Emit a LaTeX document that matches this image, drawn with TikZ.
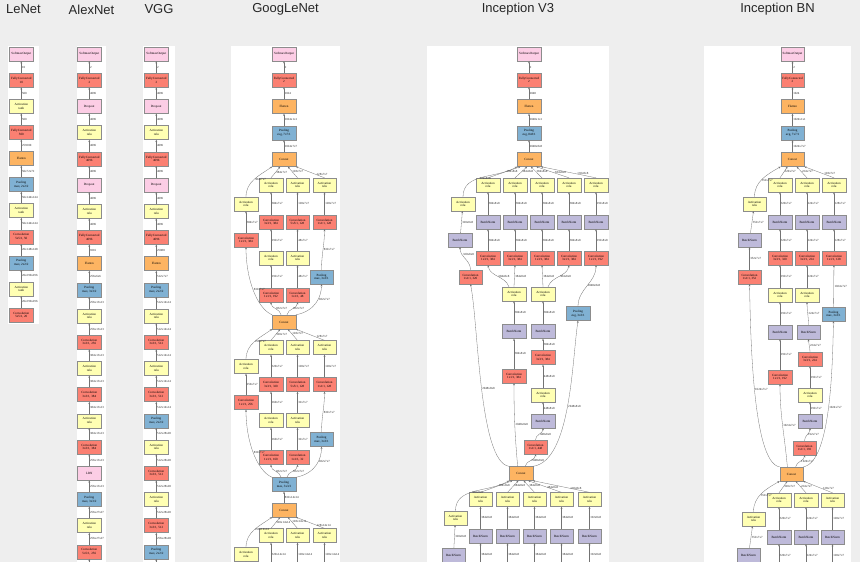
\documentclass[tikz,border=0pt]{standalone}
\usepackage{fontspec}
\setmainfont{Liberation Serif}
\newfontfamily\ttlfont{Liberation Sans}
\usetikzlibrary{arrows.meta}
\definecolor{cRed}{HTML}{FB8072}
\definecolor{cYel}{HTML}{FFFFB3}
\definecolor{cPur}{HTML}{BEBADA}
\definecolor{cBlue}{HTML}{80B1D3}
\definecolor{cOra}{HTML}{FDB462}
\definecolor{cPink}{HTML}{FCCDE5}
\definecolor{bgGray}{HTML}{EEEEEE}
\begin{document}
\begin{tikzpicture}[x=1pt,y=1pt,
 nb/.style={draw=black!45,line width=0.35pt,minimum width=23.5pt,minimum height=14pt,inner sep=0pt,align=center,font={\fontsize{3.2}{3.7}\selectfont}},
 conv/.style={nb,fill=cRed},
 act/.style={nb,fill=cYel},
 bn/.style={nb,fill=cPur},
 pool/.style={nb,fill=cBlue},
 cat/.style={nb,fill=cOra},
 oth/.style={nb,fill=cPink},
 e/.style={draw=black!55,line width=0.3pt,-{Stealth[length=2.2pt,width=1.8pt]}},
 lab/.style={font={\fontsize{3.1}{3.5}\selectfont},anchor=west,inner sep=0.6pt,text=black!85},
 ttl/.style={font={\ttlfont\fontsize{13}{15}\selectfont},text=black!85,inner sep=0pt},
 panel/.style={fill=white,draw=none}]
\useasboundingbox (0,0) rectangle (860,-562);
\fill[bgGray] (0,0) rectangle (860,-562);
% panels
\fill[panel] (8,-46) rectangle (39,-324);
\fill[panel] (77,-46) rectangle (106,-562);
\fill[panel] (143,-46) rectangle (175,-562);
\fill[panel] (231,-46) rectangle (340,-562);
\fill[panel] (427,-46) rectangle (609,-562);
\fill[panel] (704,-46) rectangle (851,-562);
% titles
\node[ttl] (tLe) at (23.5,-9.5) {LeNet};
\node[ttl] (tAl) at (91.5,-9.5) {AlexNet};
\node[ttl] (tVg) at (159,-9.5) {VGG};
\node[ttl] (tGo) at (285.5,-9.5) {GoogLeNet};
\node[ttl] (tV3) at (518,-9.5) {Inception V3};
\node[ttl] (tBN) at (777.5,-9.5) {Inception BN};

% ================= LeNet =================
\foreach \i/\st/\tx in {0/oth/SoftmaxOutput,1/conv/{FullyConnected\\10},2/act/{Activation\\tanh},3/conv/{FullyConnected\\500},4/cat/Flatten,5/pool/{Pooling\\max, 2x2/2},6/act/{Activation\\tanh},7/conv/{Convolution\\5x5/1, 50},8/pool/{Pooling\\max, 2x2/2},9/act/{Activation\\tanh},10/conv/{Convolution\\5x5/1, 20}}
  \node[\st] (le\i) at (21.3,{-54-26.1*\i}) {\tx};
\foreach \i/\lb in {1/10,2/500,3/500,4/259200,5/50x72x72,6/50x144x144,7/50x144x144,8/20x148x148,9/20x296x296,10/20x296x296}{
  \pgfmathtruncatemacro\jj{\i-1}
  \draw[e] (le\i) -- node[lab]{\lb} (le\jj);}

% ================= AlexNet =================
\foreach \i/\st/\tx in {0/oth/SoftmaxOutput,1/conv/{FullyConnected\\2},2/oth/Dropout,3/act/{Activation\\relu},4/conv/{FullyConnected\\4096},5/oth/Dropout,6/act/{Activation\\relu},7/conv/{FullyConnected\\4096},8/cat/Flatten,9/pool/{Pooling\\max, 3x3/2},10/act/{Activation\\relu},11/conv/{Convolution\\3x3/1, 256},12/act/{Activation\\relu},13/conv/{Convolution\\3x3/1, 384},14/act/{Activation\\relu},15/conv/{Convolution\\3x3/1, 384},16/oth/LRN,17/pool/{Pooling\\max, 3x3/2},18/act/{Activation\\relu},19/conv/{Convolution\\5x5/1, 256}}
  \node[\st] (al\i) at (89.3,{-54-26.2*\i}) {\tx};
\foreach \i/\lb in {1/2,2/4096,3/4096,4/4096,5/4096,6/4096,7/4096,8/9216,9/256x6x6,10/256x13x13,11/256x13x13,12/384x13x13,13/384x13x13,14/384x13x13,15/384x13x13,16/256x13x13,17/256x13x13,18/256x27x27,19/256x27x27}{
  \pgfmathtruncatemacro\jj{\i-1}
  \draw[e] (al\i) -- node[lab]{\lb} (al\jj);}
\coordinate (alEnd) at (89.3,-580);
\draw[e] (alEnd) -- (al19);

% ================= VGG =================
\foreach \i/\st/\tx in {0/oth/SoftmaxOutput,1/conv/{FullyConnected\\2},2/oth/Dropout,3/act/{Activation\\relu},4/conv/{FullyConnected\\4096},5/oth/Dropout,6/act/{Activation\\relu},7/conv/{FullyConnected\\4096},8/cat/Flatten,9/pool/{Pooling\\max, 2x2/2},10/act/{Activation\\relu},11/conv/{Convolution\\3x3/1, 512},12/act/{Activation\\relu},13/conv/{Convolution\\3x3/1, 512},14/pool/{Pooling\\max, 2x2/2},15/act/{Activation\\relu},16/conv/{Convolution\\3x3/1, 512},17/act/{Activation\\relu},18/conv/{Convolution\\3x3/1, 512},19/pool/{Pooling\\max, 2x2/2}}
  \node[\st] (vg\i) at (156.3,{-54-26.2*\i}) {\tx};
\foreach \i/\lb in {1/2,2/4096,3/4096,4/4096,5/4096,6/4096,7/4096,8/25088,9/512x7x7,10/512x14x14,11/512x14x14,12/512x14x14,13/512x14x14,14/512x14x14,15/512x28x28,16/512x28x28,17/512x28x28,18/512x28x28,19/256x28x28}{
  \pgfmathtruncatemacro\jj{\i-1}
  \draw[e] (vg\i) -- node[lab]{\lb} (vg\jj);}
\coordinate (vgEnd) at (156.3,-580);
\draw[e] (vgEnd) -- (vg19);

% ================= GoogLeNet =================
\node[oth] (g0) at (284,-54) {SoftmaxOutput};
\node[conv] (g1) at (284,-80) {FullyConnected\\2};
\node[cat] (g2) at (284,-106.5) {Flatten};
\node[pool] (g3) at (284,-133) {Pooling\\avg, 7x7/1};
\node[cat] (gA) at (284,-159.5) {Concat};
\draw[e] (g1) -- node[lab]{2} (g0);
\draw[e] (g2) -- node[lab]{1024} (g1);
\draw[e] (g3) -- node[lab]{1024x1x1} (g2);
\draw[e] (gA) -- node[lab]{1024x7x7} (g3);
% block A
\node[act] (gAl1) at (246,-204) {Activation\\relu};
\node[conv] (gAl2) at (246,-240) {Convolution\\1x1/1, 384};
\node[act] (gA21) at (271,-185) {Activation\\relu};
\node[conv] (gA22) at (271,-222) {Convolution\\3x3/1, 384};
\node[act] (gA23) at (271,-258) {Activation\\relu};
\node[conv] (gA24) at (271,-295) {Convolution\\1x1/1, 192};
\node[act] (gA31) at (297.5,-185) {Activation\\relu};
\node[conv] (gA32) at (297.5,-222) {Convolution\\5x5/1, 128};
\node[act] (gA33) at (297.5,-258) {Activation\\relu};
\node[conv] (gA34) at (297.5,-295) {Convolution\\1x1/1, 48};
\node[act] (gA41) at (324.5,-185) {Activation\\relu};
\node[conv] (gA42) at (324.5,-222) {Convolution\\1x1/1, 128};
\node[pool] (gA43) at (321.5,-277) {Pooling\\max, 3x3/1};
\node[cat] (gB) at (284,-322) {Concat};
\draw[e] (gAl1.north) to[out=90,in=-145] node[lab]{384x7x7} (gA.south west);
\draw[e] (gA21.north) -- node[lab]{384x7x7} (gA.-118);
\draw[e] (gA31.north) -- node[lab,pos=0.6]{128x7x7} (gA.-62);
\draw[e] (gA41.north) -- node[lab,pos=0.3]{128x7x7} (gA.south east);
\draw[e] (gAl2) -- node[lab]{384x7x7} (gAl1);
\draw[e] (gA22) -- node[lab]{384x7x7} (gA21);
\draw[e] (gA32) -- node[lab]{128x7x7} (gA31);
\draw[e] (gA42) -- node[lab]{128x7x7} (gA41);
\draw[e] (gA23) -- node[lab]{192x7x7} (gA22);
\draw[e] (gA33) -- node[lab]{48x7x7} (gA32);
\draw[e] (gA43.north) to[out=90,in=-90] node[lab]{832x7x7} (gA42.south);
\draw[e] (gA24) -- node[lab]{192x7x7} (gA23);
\draw[e] (gA34) -- node[lab]{48x7x7} (gA33);
\draw[e] (gB.north west) .. controls +(-16,7) and +(0,-30) .. node[lab]{832x7x7} (gAl2.south);
\draw[e] (gB.112) to[out=100,in=-90] node[lab]{832x7x7} (gA24.south);
\draw[e] (gB.68) to[out=80,in=-90] node[lab]{832x7x7} (gA34.south);
\draw[e] (gB.north east) .. controls +(20,4) and +(0,-12) .. node[lab,pos=0.6]{832x7x7} (gA43.south);
% block B
\node[act] (gBl1) at (246,-366.5) {Activation\\relu};
\node[conv] (gBl2) at (246,-402.5) {Convolution\\1x1/1, 256};
\node[act] (gB21) at (271,-347.5) {Activation\\relu};
\node[conv] (gB22) at (271,-384.5) {Convolution\\3x3/1, 320};
\node[act] (gB23) at (271,-420.5) {Activation\\relu};
\node[conv] (gB24) at (271,-457.5) {Convolution\\1x1/1, 160};
\node[act] (gB31) at (297.5,-347.5) {Activation\\relu};
\node[conv] (gB32) at (297.5,-384.5) {Convolution\\5x5/1, 128};
\node[act] (gB33) at (297.5,-420.5) {Activation\\relu};
\node[conv] (gB34) at (297.5,-457.5) {Convolution\\1x1/1, 32};
\node[act] (gB41) at (324.5,-347.5) {Activation\\relu};
\node[conv] (gB42) at (324.5,-384.5) {Convolution\\1x1/1, 128};
\node[pool] (gB43) at (321.5,-439.5) {Pooling\\max, 3x3/1};
\node[pool] (gP) at (284,-484.5) {Pooling\\max, 3x3/2};
\node[cat] (gC) at (284,-510) {Concat};
\draw[e] (gBl1.north) to[out=90,in=-145] node[lab]{256x7x7} (gB.south west);
\draw[e] (gB21.north) -- node[lab]{320x7x7} (gB.-118);
\draw[e] (gB31.north) -- node[lab,pos=0.6]{128x7x7} (gB.-62);
\draw[e] (gB41.north) -- node[lab,pos=0.3]{128x7x7} (gB.south east);
\draw[e] (gBl2) -- node[lab]{256x7x7} (gBl1);
\draw[e] (gB22) -- node[lab]{320x7x7} (gB21);
\draw[e] (gB32) -- node[lab]{128x7x7} (gB31);
\draw[e] (gB42) -- node[lab]{128x7x7} (gB41);
\draw[e] (gB23) -- node[lab]{160x7x7} (gB22);
\draw[e] (gB33) -- node[lab]{32x7x7} (gB32);
\draw[e] (gB43.north) to[out=90,in=-90] node[lab]{832x7x7} (gB42.south);
\draw[e] (gB24) -- node[lab]{160x7x7} (gB23);
\draw[e] (gB34) -- node[lab]{32x7x7} (gB33);
\draw[e] (gP.north west) .. controls +(-16,7) and +(0,-30) .. node[lab]{832x7x7} (gBl2.south);
\draw[e] (gP.112) to[out=100,in=-90] node[lab]{832x7x7} (gB24.south);
\draw[e] (gP.68) to[out=80,in=-90] node[lab]{832x7x7} (gB34.south);
\draw[e] (gP.north east) .. controls +(20,4) and +(0,-12) .. node[lab,pos=0.6]{832x7x7} (gB43.south);
\draw[e] (gC) -- node[lab]{832x14x14} (gP);
% block C
\node[act] (gCl1) at (246,-554.5) {Activation\\relu};
\node[act] (gC21) at (271,-535.5) {Activation\\relu};
\node[act] (gC31) at (297.5,-535.5) {Activation\\relu};
\node[act] (gC41) at (324.5,-535.5) {Activation\\relu};
\draw[e] (gCl1.north) to[out=90,in=-145] node[lab]{256x14x14} (gC.south west);
\draw[e] (gC21.north) -- node[lab]{320x14x14} (gC.-118);
\draw[e] (gC31.north) -- node[lab,pos=0.6]{128x14x14} (gC.-62);
\draw[e] (gC41.north) -- node[lab,pos=0.3]{128x14x14} (gC.south east);
\coordinate (gCb2) at (271,-565.5);
\coordinate (gCb3) at (297.5,-565.5);
\coordinate (gCb4) at (324.5,-565.5);
\coordinate (gCbl) at (246,-583);
\draw[e] (gCb2) -- node[lab]{320x14x14} (gC21);
\draw[e] (gCb3) -- node[lab]{128x14x14} (gC31);
\draw[e] (gCb4) -- node[lab]{128x14x14} (gC41);
\draw[e] (gCbl) -- (gCl1);

% ================= Inception V3 =================
\node[oth] (v0) at (529,-54) {SoftmaxOutput};
\node[conv] (v1) at (529,-80) {FullyConnected\\2};
\node[cat] (v2) at (529,-106.5) {Flatten};
\node[pool] (v3) at (529,-133) {Pooling\\avg, 8x8/1};
\node[cat] (vA) at (529,-159.5) {Concat};
\draw[e] (v1) -- node[lab]{2} (v0);
\draw[e] (v2) -- node[lab]{2048} (v1);
\draw[e] (v3) -- node[lab]{2048x1x1} (v2);
\draw[e] (vA) -- node[lab]{2048x8x8} (v3);
\node[act] (vAl1) at (463,-204) {Activation\\relu};
\node[bn] (vAl2) at (460,-240) {BatchNorm};
\node[conv] (vAl3) at (470.5,-277) {Convolution\\1x1/1, 320};
\foreach \k/\xx/\cv/\oc in {1/488/{1x3/1, 384}/384,2/515/{3x1/1, 384}/384,3/542/{1x3/1, 384}/384,4/569/{3x1/1, 384}/384,5/596/{1x1/1, 192}/192}{
  \node[act] (vA\k1) at (\xx,-185) {Activation\\relu};
  \node[bn] (vA\k2) at (\xx,-222) {BatchNorm};
  \node[conv] (vA\k3) at (\xx,-258) {Convolution\\\cv};
  \draw[e] (vA\k2) -- node[lab]{\oc x8x8} (vA\k1);
  \draw[e] (vA\k3) -- node[lab]{\oc x8x8} (vA\k2);}
\draw[e] (vAl1.north) to[out=90,in=-150] node[lab,pos=0.45]{320x8x8} (vA.south west);
\draw[e] (vA11.north) -- node[lab,pos=0.55]{384x8x8} (vA.-140);
\draw[e] (vA21.north) -- node[lab,pos=0.55]{384x8x8} (vA.-105);
\draw[e] (vA31.north) -- node[lab,pos=0.55]{384x8x8} (vA.-75);
\draw[e] (vA41.north) -- node[lab,pos=0.45]{384x8x8} (vA.-45);
\draw[e] (vA51.north) -- node[lab,pos=0.35]{192x8x8} (vA.south east);
\draw[e] (vAl2) -- node[lab]{320x8x8} (vAl1);
\draw[e] (vAl3.north) to[out=90,in=-90] node[lab,pos=0.7]{320x8x8} (vAl2.south);
\node[act] (vM1) at (514,-294) {Activation\\relu};
\node[bn] (vM2) at (514,-331.5) {BatchNorm};
\node[conv] (vM3) at (514,-376) {Convolution\\1x1/1, 384};
\node[act] (vN1) at (543,-294) {Activation\\relu};
\node[bn] (vN2) at (543,-331.5) {BatchNorm};
\node[conv] (vN3) at (543,-357.5) {Convolution\\3x3/1, 384};
\node[act] (vN4) at (543,-395) {Activation\\relu};
\node[bn] (vN5) at (543,-421) {BatchNorm};
\node[conv] (vN6) at (535.5,-447) {Convolution\\1x1/1, 448};
\node[pool] (vPo) at (578,-313.5) {Pooling\\avg, 3x3/1};
\node[cat] (vB) at (521,-473.5) {Concat};
\draw[e] (vM1.125) to[out=110,in=-80] node[lab]{384x8x8} (vA13.south);
\draw[e] (vM1.north) -- node[lab]{384x8x8} (vA23.south);
\draw[e] (vN1.north) -- node[lab]{384x8x8} (vA33.south);
\draw[e] (vN1.55) to[out=70,in=-100] node[lab]{384x8x8} (vA43.south);
\draw[e] (vPo.north) to[out=90,in=-90] node[lab]{2048x8x8} (vA53.south);
\draw[e] (vM2) -- node[lab]{384x8x8} (vM1);
\draw[e] (vM3) -- node[lab]{384x8x8} (vM2);
\draw[e] (vN2) -- node[lab]{384x8x8} (vN1);
\draw[e] (vN3) -- node[lab]{384x8x8} (vN2);
\draw[e] (vN4) -- node[lab]{448x8x8} (vN3);
\draw[e] (vN5) -- node[lab]{448x8x8} (vN4);
\draw[e] (vN6.north) to[out=90,in=-90] node[lab]{448x8x8} (vN5.south);
\draw[e] (vB.115) to[out=95,in=-90] node[lab]{2048x8x8} (vM3.south);
\draw[e] (vB.60) to[out=80,in=-90] node[lab]{2048x8x8} (vN6.south);
\draw[e] (vB.north west) .. controls +(-30,4) and +(8,-40) .. node[lab]{2048x8x8} (vAl3.south);
\draw[e] (vB.north east) .. controls +(38,5) and +(-6,-40) .. node[lab]{2048x8x8} (vPo.south);
% V3 block B
\node[act] (vBl1) at (455.5,-518) {Activation\\relu};
\node[bn] (vBl2) at (453.5,-555) {BatchNorm};
\foreach \k/\xx/\oc in {1/480.5/384,2/507.5/384,3/534.5/384,4/561.5/384,5/589.5/192}{
  \node[act] (vB\k1) at (\xx,-499.5) {Activation\\relu};
  \node[bn] (vB\k2) at (\xx,-536) {BatchNorm};
  \coordinate (vB\k b) at (\xx,-565.5);
  \draw[e] (vB\k2) -- node[lab]{\oc x8x8} (vB\k1);
  \draw[e] (vB\k b) -- node[lab]{\oc x8x8} (vB\k2);}
\draw[e] (vBl1.north) to[out=90,in=-150] node[lab,pos=0.45]{320x8x8} (vB.south west);
\draw[e] (vB11.north) -- node[lab,pos=0.55]{384x8x8} (vB.-140);
\draw[e] (vB21.north) -- node[lab,pos=0.55]{384x8x8} (vB.-110);
\draw[e] (vB31.north) -- node[lab,pos=0.55]{384x8x8} (vB.-70);
\draw[e] (vB41.north) -- node[lab,pos=0.45]{384x8x8} (vB.-45);
\draw[e] (vB51.north) -- node[lab,pos=0.35]{192x8x8} (vB.south east);
\draw[e] (vBl2) -- node[lab]{320x8x8} (vBl1);

% ================= Inception BN =================
\node[oth] (b0) at (792.5,-54) {SoftmaxOutput};
\node[conv] (b1) at (792.5,-80) {FullyConnected\\2};
\node[cat] (b2) at (792.5,-106.5) {Flatten};
\node[pool] (b3) at (792.5,-133) {Pooling\\avg, 7x7/1};
\node[cat] (bA) at (792.5,-159.5) {Concat};
\draw[e] (b1) -- node[lab]{2} (b0);
\draw[e] (b2) -- node[lab]{1024} (b1);
\draw[e] (b3) -- node[lab]{1024x1x1} (b2);
\draw[e] (bA) -- node[lab]{1024x7x7} (b3);
\node[act] (bAl1) at (754.5,-204) {Activation\\relu};
\node[bn] (bAl2) at (749.5,-240) {BatchNorm};
\node[conv] (bAl3) at (749.5,-277) {Convolution\\1x1/1, 352};
\foreach \k/\xx/\cv/\oc in {1/780/{3x3/1, 320}/320,2/807/{3x3/1, 224}/224,3/834/{1x1/1, 128}/128}{
  \node[act] (bA\k1) at (\xx,-185) {Activation\\relu};
  \node[bn] (bA\k2) at (\xx,-222) {BatchNorm};
  \node[conv] (bA\k3) at (\xx,-258) {Convolution\\\cv};
  \draw[e] (bA\k2) -- node[lab]{\oc x7x7} (bA\k1);
  \draw[e] (bA\k3) -- node[lab]{\oc x7x7} (bA\k2);}
\draw[e] (bAl1.north) to[out=90,in=-150] node[lab,pos=0.45]{352x7x7} (bA.south west);
\draw[e] (bA11.north) -- node[lab,pos=0.55]{320x7x7} (bA.-125);
\draw[e] (bA21.north) -- node[lab,pos=0.55]{224x7x7} (bA.-60);
\draw[e] (bA31.north) -- node[lab,pos=0.35]{128x7x7} (bA.south east);
\draw[e] (bAl2) -- node[lab]{352x7x7} (bAl1);
\draw[e] (bAl3) -- node[lab]{352x7x7} (bAl2);
\node[act] (bM1) at (780,-295) {Activation\\relu};
\node[bn] (bM2) at (780,-332) {BatchNorm};
\node[conv] (bM3) at (780,-377) {Convolution\\1x1/1, 192};
\node[act] (bN1) at (807,-295) {Activation\\relu};
\node[bn] (bN2) at (808.5,-332) {BatchNorm};
\node[conv] (bN3) at (810,-359) {Convolution\\3x3/1, 224};
\node[act] (bN4) at (810,-395) {Activation\\relu};
\node[bn] (bN5) at (810,-421) {BatchNorm};
\node[conv] (bN6) at (804.5,-448) {Convolution\\1x1/1, 192};
\node[pool] (bPo) at (833.5,-314) {Pooling\\max, 3x3/1};
\node[cat] (bB) at (791.5,-474) {Concat};
\draw[e] (bM1) -- node[lab]{192x7x7} (bA13);
\draw[e] (bN1) -- node[lab]{224x7x7} (bA23);
\draw[e] (bPo) -- node[lab]{1024x7x7} (bA33);
\draw[e] (bM2) -- node[lab]{192x7x7} (bM1);
\draw[e] (bM3) -- node[lab]{192x7x7} (bM2);
\draw[e] (bN2.north) to[out=90,in=-90] node[lab]{224x7x7} (bN1.south);
\draw[e] (bN3.north) to[out=90,in=-90] node[lab]{224x7x7} (bN2.south);
\draw[e] (bN4) -- node[lab]{192x7x7} (bN3);
\draw[e] (bN5) -- node[lab]{192x7x7} (bN4);
\draw[e] (bN6.north) to[out=90,in=-90] node[lab]{192x7x7} (bN5.south);
\draw[e] (bB.120) to[out=95,in=-90] node[lab]{1024x7x7} (bM3.south);
\draw[e] (bB.60) to[out=80,in=-90] node[lab]{1024x7x7} (bN6.south);
\draw[e] (bB.north west) .. controls +(-28,4) and +(1,-40) .. node[lab]{1024x7x7} (bAl3.south);
\draw[e] (bB.north east) .. controls +(28,5) and +(-1,-40) .. node[lab]{1024x7x7} (bPo.south);
% BN block B
\node[act] (bBl1) at (753.5,-519) {Activation\\relu};
\node[bn] (bBl2) at (748.5,-555) {BatchNorm};
\foreach \k/\xx/\oc in {1/779/320,2/806/224,3/832.5/128}{
  \node[act] (bB\k1) at (\xx,-500) {Activation\\relu};
  \node[bn] (bB\k2) at (\xx,-537) {BatchNorm};
  \coordinate (bB\k b) at (\xx,-566);
  \draw[e] (bB\k2) -- node[lab]{\oc x7x7} (bB\k1);
  \draw[e] (bB\k b) -- node[lab]{\oc x7x7} (bB\k2);}
\draw[e] (bBl1.north) to[out=90,in=-150] node[lab,pos=0.45]{352x7x7} (bB.south west);
\draw[e] (bB11.north) -- node[lab,pos=0.55]{320x7x7} (bB.-120);
\draw[e] (bB21.north) -- node[lab,pos=0.55]{224x7x7} (bB.-60);
\draw[e] (bB31.north) -- node[lab,pos=0.35]{128x7x7} (bB.south east);
\draw[e] (bBl2) -- node[lab]{352x7x7} (bBl1);
\end{tikzpicture}
\end{document}
